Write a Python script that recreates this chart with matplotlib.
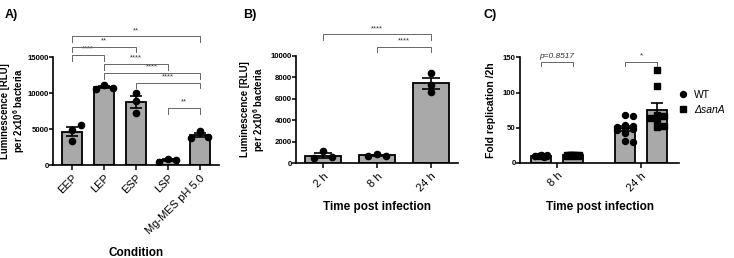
import numpy as np
import matplotlib
matplotlib.use('Agg')
import matplotlib.pyplot as plt
from matplotlib.lines import Line2D

plt.rcParams['font.family'] = ['Liberation Sans', 'DejaVu Sans']
plt.rcParams['mathtext.fontset'] = 'custom'
plt.rcParams['mathtext.bf'] = 'Liberation Sans:bold'
plt.rcParams['mathtext.rm'] = 'Liberation Sans:bold'
plt.rcParams['mathtext.default'] = 'bf'

# ---- data ----
cond_labels = ['EEP', 'LEP', 'ESP', 'LSP', 'Mg-MES pH 5.0']
eep = [4900, 5500, 3400]
lep = [11050, 10750, 10550]
esp = [10000, 8900, 7200]
lsp = [900, 700, 400]
mgmes = [4700, 3950, 3800]
sig_a = [(0, 4, '**'), (0, 2, '**'), (0, 1, '****'), (1, 3, '****'),
         (1, 4, '****'), (2, 4, '****'), (3, 4, '**')]

time_labels_b = ['2 h', '8 h', '24 h']
t2h = [1100, 600, 450]
t8h = [850, 700, 700]
t24h = [8400, 7300, 6600]
sig_b = [(0, 2, '****'), (1, 2, '****')]

time_labels_c = ['8 h', '24 h']
wt_8h = [11.0, 10.5, 10.2, 10.0, 9.8, 9.6, 9.3, 9.0, 8.7, 10.4]
san_8h = [11.5, 11.0, 10.8, 10.5, 10.3, 10.0, 9.8, 9.5, 10.7, 11.2]
wt_24h = [68, 66, 54, 52, 51, 50, 48, 46, 42, 31, 30]
san_24h = [132, 109, 68, 67, 64, 60, 52, 51]
sig_c = ['p=0.8517', '*']

W, H = 734, 258
fig = plt.figure(figsize=(W / 100, H / 100), dpi=100)
BAR = '#a9a9a9'
BRK = '#666666'


def px_axes(l, r, b, t):
    return fig.add_axes([l / W, 1 - b / H, (r - l) / W, (b - t) / H])


def style(ax):
    for s in ['top', 'right']:
        ax.spines[s].set_visible(False)
    for s in ['left', 'bottom']:
        ax.spines[s].set_linewidth(1.2)
    ax.tick_params(direction='out', length=3.3, width=1.1)
    ax.tick_params(axis='y', length=2.6, pad=0.6)
    ax.tick_params(axis='x', pad=2.5)
    for lab in ax.get_yticklabels():
        lab.set_fontsize(5.6)
        lab.set_fontweight('bold')


def swarm(ax, x0, ys, step, mind, maxk):
    pts, xs = [], []
    cands = [0]
    for k in range(1, maxk + 1):
        cands += [k, -k]
    for y in ys:
        xp0, yp = ax.transData.transform((x0, y))
        best, bestd = None, -1
        for k in cands:
            xp = xp0 + k * step
            d = min([np.hypot(xp - a, yp - b) for a, b in pts], default=1e9)
            if d >= mind:
                best = xp
                break
            if d > bestd:
                bestd, best = d, xp
        pts.append((best, yp))
        xs.append(ax.transData.inverted().transform((best, yp))[0])
    return xs


def bars(ax, xs, groups, width, cap, marker='o', step=8.5, mind=7.2, maxk=1, ms=4.5):
    for x, g in zip(xs, groups):
        g = np.array(g, float)
        m = g.mean()
        sem = g.std(ddof=1) / np.sqrt(len(g))
        ax.bar(x, m, width, color=BAR, edgecolor='k', linewidth=1.3, zorder=1)
        px = swarm(ax, x, g, step, mind, maxk)
        ax.plot(px, g, ls='', marker=marker, color='k', ms=ms, zorder=2)
        ax.errorbar(x, m, yerr=sem, color='k', capsize=cap, elinewidth=1.2,
                    capthick=1.2, zorder=3)


def bracket(ax, x1, x2, y, h, text, fs=5.5, italic=False):
    ax.plot([x1, x1, x2, x2], [y - h, y, y, y - h], color=BRK, lw=0.7,
            clip_on=False, zorder=4)
    ax.annotate(text, ((x1 + x2) / 2, y), xytext=(0, 1.5), textcoords='offset points',
                ha='center', va='bottom', fontsize=fs, color='#333333',
                style='italic' if italic else 'normal', annotation_clip=False)


ylab = 'Luminescence [RLU]\nper 2x10$^6$ bacteria'

# ---- panel A ----
axA = px_axes(53, 219, 165, 57)
axA.set_xlim(-0.6, 4.6)
axA.set_ylim(0, 15000)
axA.set_yticks([0, 5000, 10000, 15000])
bars(axA, range(5), [eep, lep, esp, lsp, mgmes], 0.62, 4.5)
axA.set_xticks(range(5))
axA.set_xticklabels(cond_labels, rotation=45, ha='right', rotation_mode='anchor', fontsize=8)
style(axA)
axA.set_ylabel(ylab, fontsize=6.9, fontweight='bold', linespacing=1.1)
axA.yaxis.set_label_coords(-0.158, 0.5)
axA.set_xlabel('Condition', fontsize=8.5, fontweight='bold')
axA.xaxis.set_label_coords(0.5, -0.76)
for (i, j, t), y in zip(sig_a, [17900, 16450, 15300, 14050, 12800, 11450, 7950]):
    bracket(axA, i, j, y, 800, t)

# ---- panel B ----
axB = px_axes(296, 458, 163.3, 55.7)
axB.set_xlim(-0.5, 2.5)
axB.set_ylim(0, 10000)
axB.set_yticks(range(0, 10001, 2000))
bars(axB, range(3), [t2h, t8h, t24h], 0.65, 6.5, step=9)
axB.set_xticks(range(3))
axB.set_xticklabels(time_labels_b, rotation=45, ha='right', rotation_mode='anchor', fontsize=8)
style(axB)
axB.set_ylabel(ylab, fontsize=6.9, fontweight='bold', linespacing=1.1)
axB.yaxis.set_label_coords(-0.18, 0.5)
axB.set_xlabel('Time post infection', fontsize=8.5, fontweight='bold')
axB.xaxis.set_label_coords(0.5, -0.35)
for (i, j, t), y in zip(sig_b, [12000, 10850]):
    bracket(axB, i, j, y, 550, t)

# ---- panel C ----
axC = px_axes(520, 679, 162.7, 57.5)
axC.set_xlim(-0.44, 1.45)
axC.set_ylim(0, 150)
axC.set_yticks([0, 50, 100, 150])
off, bw = 0.19, 0.235
bars(axC, [-off], [wt_8h], bw, 4.5, marker='o', step=3.2, mind=6.5, maxk=2, ms=4.3)
bars(axC, [off], [san_8h], bw, 4.5, marker='s', step=3.2, mind=6.5, maxk=2, ms=3.8)
bars(axC, [1 - off], [wt_24h], bw, 4.5, marker='o', step=8.3, mind=6.5, maxk=1, ms=4.3)
bars(axC, [1 + off], [san_24h], bw, 4.5, marker='s', step=7.3, mind=6.0, maxk=1, ms=3.8)
axC.set_xticks([0, 1])
axC.set_xticklabels(time_labels_c, rotation=45, ha='right', rotation_mode='anchor', fontsize=8)
style(axC)
axC.set_ylabel('Fold replication /2h', fontsize=7.5, fontweight='bold')
axC.yaxis.set_label_coords(-0.15, 0.5)
axC.set_xlabel('Time post infection', fontsize=8.5, fontweight='bold')
axC.xaxis.set_label_coords(0.5, -0.36)
bracket(axC, -off, off, 144, 6, sig_c[0], fs=6, italic=True)
bracket(axC, 1 - off, 1 + off, 144, 6, sig_c[1], fs=6)

handles = [Line2D([], [], ls='', marker='o', color='k', ms=4.3),
           Line2D([], [], ls='', marker='s', color='k', ms=3.8)]
leg = axC.legend(handles, ['WT', '\u0394sanA'], loc='upper left',
                 bbox_to_anchor=(678.5 / W, 1 - 90 / H), bbox_transform=fig.transFigure,
                 frameon=False, fontsize=7.5, handlelength=0.8, handletextpad=0.7,
                 borderpad=0, borderaxespad=0, labelspacing=0.45)
leg.get_texts()[1].set_style('italic')

for x, t in [(5, 'A)'), (243, 'B)'), (483, 'C)')]:
    fig.text(x / W, 1 - 15 / H, t, fontsize=9, fontweight='bold', va='center')

fig.savefig('out.png', dpi=100)
